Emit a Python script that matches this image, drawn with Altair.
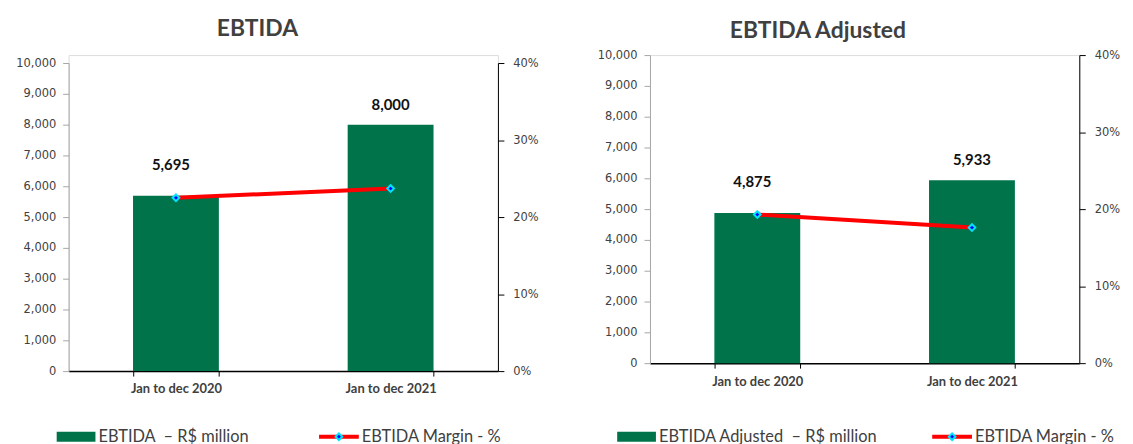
import altair as alt
import pandas as pd

categories = ["Jan to dec 2020", "Jan to dec 2021"]
ebitda = [5695, 8000]
ebitda_margin = [0.225, 0.237]
ebitda_adj = [4875, 5933]
ebitda_adj_margin = [0.193, 0.176]

titles = ["EBTIDA", "EBTIDA Adjusted"]
bar_legend = ["EBTIDA\u00a0\u00a0\u2013 R$ million",
              "EBTIDA Adjusted\u00a0\u00a0\u2013 R$ million"]
line_legend = ["EBTIDA Margin - %", "EBTIDA Margin - %"]
left_ticks = [0, 1000, 2000, 3000, 4000, 5000, 6000, 7000, 8000, 9000, 10000]
right_ticks = [0.0, 0.1, 0.2, 0.3, 0.4]

FONT = "Lato"
AXFONT = "DejaVu Sans"
GREEN = "#00734a"
RED = "#ff0000"
TXT = "#404040"
W, H = 432, 310


def panel(values, margins, title, leg_bar, leg_line, title_y, title_x,
          extra_top, leg_y, leg_bar_x, leg_line_x):
    vh = H + extra_top
    df = pd.DataFrame({"cat": categories, "value": values, "margin": margins})
    base = alt.Chart(df)
    xenc = alt.X("cat:N", sort=categories, title=None,
                 scale=alt.Scale(paddingInner=0.6, paddingOuter=0.3),
                 axis=alt.Axis(labelAngle=0, labelFont=FONT, labelFontSize=13,
                               labelFontWeight="bold", labelColor=TXT,
                               domainColor="#000000", domainWidth=1.5,
                               tickColor="#000000", tickBand="extent",
                               tickSize=5, labelPadding=7))
    yenc = alt.Y("value:Q", title=None,
                 scale=alt.Scale(domain=[0, 10000], nice=False,
                                 range=[vh, extra_top]),
                 axis=alt.Axis(values=left_ticks,
                               labelExpr="format(datum.value, ',')",
                               grid=False, labelFont=AXFONT,
                               labelFontSize=11.5, labelColor=TXT,
                               domainColor="#a6a6a6", tickColor="#a6a6a6",
                               tickSize=6, labelPadding=7,
                               minExtent=58, maxExtent=58))
    bars = base.mark_bar(color=GREEN).encode(x=xenc, y=yenc)

    lab1 = base.transform_filter(alt.datum.cat == categories[0]).mark_text(
        font=FONT, fontSize=15, fontWeight="bold", color="#111111", dy=-31,
        dx=-5
    ).encode(x=xenc, y=yenc, text=alt.Text("value:Q", format=","))
    lab2 = base.transform_filter(alt.datum.cat == categories[1]).mark_text(
        font=FONT, fontSize=15, fontWeight="bold", color="#111111", dy=-20
    ).encode(x=xenc, y=yenc, text=alt.Text("value:Q", format=","))

    ldf = alt.Chart(pd.DataFrame({"a": [leg_bar], "b": [leg_line],
                                  "t": [title]}))
    ttl = ldf.mark_text(align="center", baseline="middle", font=FONT,
                        fontSize=23, fontWeight="bold", color=TXT).encode(
        x=alt.value(title_x), y=alt.value(title_y), text="t:N")
    sw = ldf.mark_rect(color=GREEN).encode(
        x=alt.value(leg_bar_x), x2=alt.value(leg_bar_x + 39),
        y=alt.value(leg_y - 5), y2=alt.value(leg_y + 5))
    sw_t = ldf.mark_text(align="left", baseline="middle", font=FONT,
                         fontSize=16.5, color=TXT).encode(
        x=alt.value(leg_bar_x + 42), y=alt.value(leg_y), text="a:N")
    ln = ldf.mark_rule(color=RED, strokeWidth=4).encode(
        x=alt.value(leg_line_x), x2=alt.value(leg_line_x + 40),
        y=alt.value(leg_y))
    ln_p = ldf.mark_point(shape="diamond", filled=True, fill="#0000ff",
                          stroke="#00e5ff", strokeWidth=2, size=45,
                          opacity=1).encode(
        x=alt.value(leg_line_x + 20), y=alt.value(leg_y))
    ln_t = ldf.mark_text(align="left", baseline="middle", font=FONT,
                         fontSize=16.5, color=TXT).encode(
        x=alt.value(leg_line_x + 43), y=alt.value(leg_y), text="b:N")

    y2 = alt.Y("margin:Q", title=None,
               scale=alt.Scale(domain=[0, 0.4], nice=False,
                               range=[vh, extra_top]),
               axis=alt.Axis(orient="right", values=right_ticks, format=".0%",
                             grid=False, labelFont=AXFONT, labelFontSize=11.5,
                             labelColor=TXT, domainColor="#000000",
                             tickColor="#000000", tickSize=6, labelPadding=9,
                             minExtent=45, maxExtent=45))
    line = base.mark_line(color=RED, strokeWidth=4).encode(x=xenc, y=y2)
    pts = base.mark_point(shape="diamond", filled=True, fill="#0000ff",
                          stroke="#00e5ff", strokeWidth=2, size=45,
                          opacity=1).encode(x=xenc, y=y2)

    bar_group = alt.layer(bars, lab1, lab2, ttl, sw, sw_t, ln, ln_p, ln_t)
    line_group = alt.layer(line, pts)

    return alt.layer(bar_group, line_group).resolve_scale(
        y="independent").properties(width=W, height=vh)


left = panel(ebitda, ebitda_margin, titles[0], bar_legend[0], line_legend[0],
             title_y=-26, title_x=190, extra_top=8, leg_y=384,
             leg_bar_x=-12, leg_line_x=252)
right = panel(ebitda_adj, ebitda_adj_margin, titles[1], bar_legend[1],
              line_legend[1], title_y=-24, title_x=169, extra_top=0,
              leg_y=384, leg_bar_x=-33, leg_line_x=284)

chart = alt.hconcat(left, right, spacing=48).properties(
    padding={"left": 2, "top": 8, "right": 0, "bottom": 0}
).configure_view(stroke=None).configure(background="white")

chart.save("out.html", embed_options={"renderer": "svg", "actions": False})
